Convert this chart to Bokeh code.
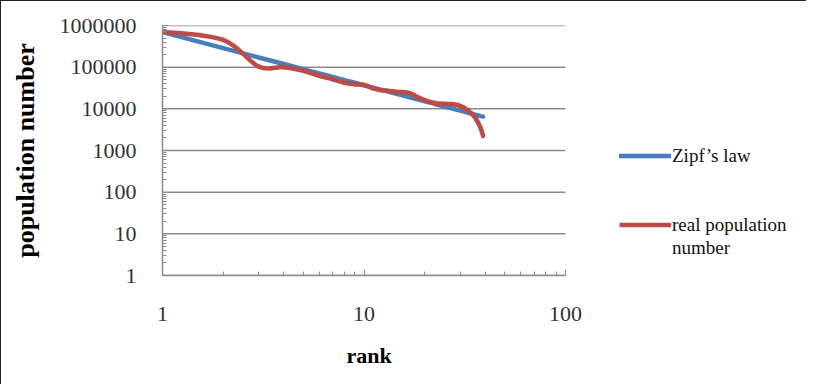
import numpy as np
from bokeh.plotting import figure
from bokeh.models import (FixedTicker, NumeralTickFormatter, Legend, LegendItem,
                          ColumnDataSource, Title)
from bokeh.embed import file_html
from bokeh.resources import INLINE

# ---- data ----
ranks = list(range(1, 40))
zipf_law = [695000, 287000, 171000, 119000, 89000, 70700, 58000, 49000, 42200, 36800,
            32600, 29200, 26400, 24000, 21900, 20200, 18700, 17400, 16200, 15200,
            14300, 13500, 12700, 12000, 11400, 10900, 10400, 9900, 9470, 9060,
            8690, 8350, 8020, 7730, 7450, 7190, 6940, 6700, 6490]
real_population = [710000, 450000, 103000, 100000, 82000, 62000, 51000, 42000, 38800, 37300,
                   31600, 28300, 27200, 26300, 25300, 25000, 23600, 20300, 17800, 16300,
                   14800, 14000, 13500, 13300, 13200, 13100, 13000, 12800, 12400, 11700,
                   11000, 10000, 9000, 7800, 6800, 5700, 4470, 3400, 2230]
y_ticks = [1, 10, 100, 1000, 10000, 100000, 1000000]
x_ticks = [1, 10, 100]
series_names = ["Zipf\u2019s law", "real population", "number"]

BLUE = "#4A7EBB"
RED = "#BE4B48"
GRID = "#8c8c8c"
SERIF = "Liberation Serif"

W, H = 806, 384
BL, BT, BB = 161, 24, 110
frame_w = W - BL
decade_px = 201.5
x_end = x_ticks[-1] * 10 ** ((frame_w - 2 * decade_px) / decade_px)

p = figure(width=W, height=H, x_axis_type="log", y_axis_type="log",
           x_range=(x_ticks[0], x_end), y_range=(y_ticks[0], y_ticks[-1]),
           output_backend="svg", toolbar_location=None,
           min_border_left=BL, min_border_right=0,
           min_border_top=BT, min_border_bottom=BB)
p.styles = {"border-left": "1px solid #222", "border-top": "1px solid #222"}
p.outline_line_color = None
p.background_fill_color = "white"
p.border_fill_color = "white"

# axes
y_minor = [m * 10 ** e for e in range(0, 6) for m in range(2, 10)]
x_minor = [m * 10 ** e for e in range(0, 2) for m in range(2, 10)]
p.yaxis.ticker = FixedTicker(ticks=y_ticks, minor_ticks=y_minor)
p.xaxis.ticker = FixedTicker(ticks=x_ticks, minor_ticks=x_minor)
p.yaxis.formatter = NumeralTickFormatter(format="0")
p.xaxis.formatter = NumeralTickFormatter(format="0")
p.xaxis.bounds = (x_ticks[0], x_ticks[-1])
for ax in (p.xaxis[0], p.yaxis[0]):
    ax.axis_line_color = GRID
    ax.axis_line_width = 1.5
    ax.major_tick_line_color = GRID
    ax.minor_tick_line_color = GRID
    ax.major_tick_in = 6
    ax.major_tick_out = 0
    ax.minor_tick_in = 4
    ax.minor_tick_out = 0
    ax.major_label_text_font = SERIF
    ax.major_label_text_font_size = "22px"
    ax.major_label_text_color = "#333333"
    ax.axis_label_text_font = SERIF
    ax.axis_label_text_font_style = "bold"
    ax.axis_label_text_color = "#000000"
p.xaxis.major_label_standoff = 31
p.yaxis.major_label_standoff = 26
p.yaxis.axis_label = "population number"
p.yaxis.axis_label_text_font_size = "26px"
p.yaxis.axis_label_standoff = 17

# x-axis title, placed under the plotted decades (the frame extends right for the legend)
p.add_layout(Title(text="rank", align="left", offset=184, standoff=34,
                   text_font=SERIF, text_font_size="22px", text_font_style="bold",
                   text_color="#000000"), "below")

# horizontal gridlines only across the plotted decades
p.xgrid.grid_line_color = None
p.ygrid.grid_line_color = None
p.segment(x0=[x_ticks[0]] * len(y_ticks), x1=[x_ticks[-1]] * len(y_ticks),
          y0=y_ticks, y1=y_ticks, line_color=GRID, line_width=1.5)

# Zipf's law line
blue = p.line(ranks, zipf_law, line_color=BLUE, line_width=4.5, line_cap="round")

# real population: smoothed curve (Catmull-Rom in log space, drawn as Bezier segments)
lx = np.log10(np.array(ranks, dtype=float))
ly = np.log10(np.array(real_population, dtype=float))
n = len(lx)
idx = np.arange(n - 1)
prev_i = np.maximum(idx - 1, 0)
next2_i = np.minimum(idx + 2, n - 1)
cx0 = lx[idx] + (lx[idx + 1] - lx[prev_i]) / 6
cy0 = ly[idx] + (ly[idx + 1] - ly[prev_i]) / 6
cx1 = lx[idx + 1] - (lx[next2_i] - lx[idx]) / 6
cy1 = ly[idx + 1] - (ly[next2_i] - ly[idx]) / 6
src = ColumnDataSource(dict(
    x0=10 ** lx[idx], y0=10 ** ly[idx], x1=10 ** lx[idx + 1], y1=10 ** ly[idx + 1],
    cx0=10 ** cx0, cy0=10 ** cy0, cx1=10 ** cx1, cy1=10 ** cy1))
p.bezier(x0="x0", y0="y0", x1="x1", y1="y1", cx0="cx0", cy0="cy0", cx1="cx1", cy1="cy1",
         source=src, line_color=RED, line_width=4.5, line_cap="round")

# legend stand-ins (single-point lines draw nothing on the plot, only legend glyphs)
red_leg = p.line(ranks[:1], real_population[:1], line_color=RED, line_width=4.5)
blank_leg = p.line(ranks[:1], real_population[:1], line_alpha=0)

legend = Legend(items=[LegendItem(label=series_names[0], renderers=[blue]),
                       LegendItem(label=" ", renderers=[blank_leg]),
                       LegendItem(label="  ", renderers=[blank_leg]),
                       LegendItem(label=series_names[1], renderers=[red_leg]),
                       LegendItem(label=series_names[2], renderers=[blank_leg])],
                location=(457, 16))
legend.border_line_color = None
legend.background_fill_alpha = 0
legend.padding = 0
legend.margin = 0
legend.spacing = 0
legend.glyph_width = 52
legend.glyph_height = 23
legend.label_height = 23
legend.label_standoff = 1
legend.label_text_font = SERIF
legend.label_text_font_size = "19px"
legend.label_text_color = "#111111"
legend.label_text_baseline = "middle"
p.add_layout(legend, "center")

open("out.html", "w").write(file_html(p, INLINE))
